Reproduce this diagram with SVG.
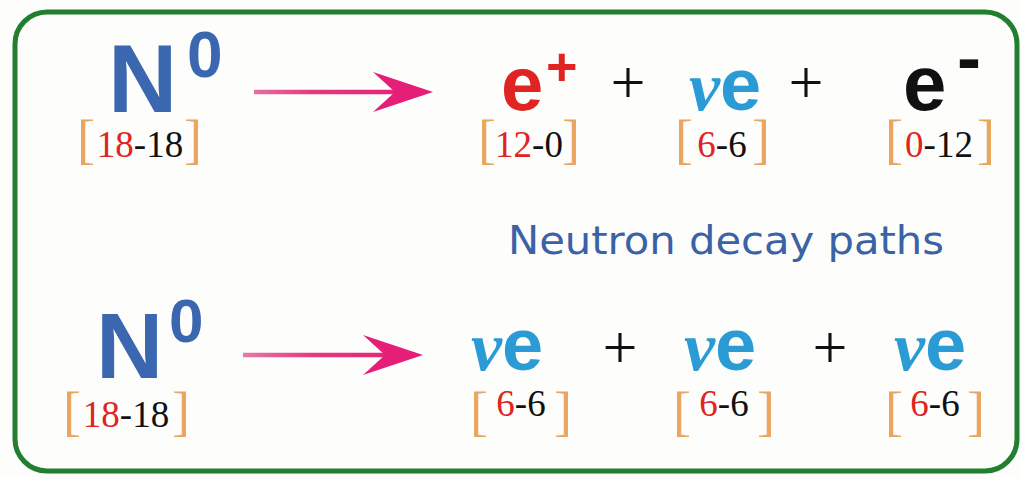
<svg xmlns="http://www.w3.org/2000/svg" width="1021" height="477" viewBox="0 0 1021 477">
<defs>
<style>
.big{font-family:"Liberation Sans",Arial,sans-serif;font-weight:bold}
.N{fill:#3b67b1}
.sup{font-family:"Liberation Sans",Arial,sans-serif;font-weight:bold}
.op{font-family:"Liberation Serif","Times New Roman",serif;font-size:62px;fill:#111;text-anchor:middle}
.nu{font-family:"Liberation Serif","Times New Roman",serif;font-style:italic;font-weight:bold;font-size:70px;fill:#2b9bd6}
.ne{font-family:"Liberation Sans",Arial,sans-serif;font-weight:bold;font-size:74px;fill:#2b9bd6}
.br{font-family:"Liberation Serif","Times New Roman",serif;font-size:54px;fill:#eaa660}
.num{font-family:"Liberation Serif","Times New Roman",serif;font-size:37px;fill:#111;text-anchor:middle}
.r{fill:#e02424}
.title{font-family:"DejaVu Sans","Liberation Sans",sans-serif;font-size:39px;fill:#3a62a6}
</style>
<linearGradient id="ag" gradientUnits="userSpaceOnUse" x1="243" y1="0" x2="420" y2="0">
<stop offset="0" stop-color="#e47aa8"/>
<stop offset="0.4" stop-color="#e4387f"/>
<stop offset="1" stop-color="#e51f78"/>
</linearGradient>
<marker id="head" markerUnits="userSpaceOnUse" markerWidth="64" markerHeight="44" refX="54" refY="22" orient="auto" viewBox="0 0 64 44">
<path d="M2,2 L62,22 L2,42 L24,22 Z" fill="#e51f78"/>
</marker>
</defs>
<rect width="1021" height="477" fill="#fdfdfb"/>
<rect id="frame" x="15" y="12" width="1002" height="459" rx="32" ry="32" fill="none" stroke="#237f30" stroke-width="5"/>

<g id="connectors">
<line x1="254" y1="92" x2="425" y2="92" stroke="url(#ag)" stroke-width="4.5" marker-end="url(#head)"/>
<line x1="243" y1="355" x2="415" y2="355" stroke="url(#ag)" stroke-width="4.5" marker-end="url(#head)"/>
</g>

<g id="n1">
<text class="big N" x="108" y="112" font-size="96">N</text>
<text class="sup N" x="187" y="77" font-size="64">0</text>
<text class="br" x="77" y="158">[</text>
<text class="br" x="202" y="158" text-anchor="end">]</text>
<text class="num" x="140" y="157"><tspan class="r">18</tspan>-18</text>
</g>

<g id="eplus">
<text class="big" x="501" y="110" font-size="76" fill="#e02424">e</text>
<text class="sup" x="546" y="85" font-size="54" fill="#e02424">+</text>
<text class="br" x="478" y="158">[</text>
<text class="br" x="580" y="158" text-anchor="end">]</text>
<text class="num" x="529" y="157"><tspan class="r">12</tspan>-0</text>
</g>

<text class="op" x="628" y="103">+</text>

<g id="nu1">
<text x="689" y="110"><tspan class="nu">v</tspan><tspan class="ne">e</tspan></text>
<text class="br" x="675" y="158">[</text>
<text class="br" x="770" y="158" text-anchor="end">]</text>
<text class="num" x="722" y="157"><tspan class="r">6</tspan>-6</text>
</g>

<text class="op" x="806" y="103">+</text>

<g id="eminus">
<text class="big" x="903" y="110" font-size="78" fill="#111">e</text>
<text class="sup" x="957" y="82" font-size="72" fill="#111">-</text>
<text class="br" x="885" y="158">[</text>
<text class="br" x="995" y="158" text-anchor="end">]</text>
<text class="num" x="939" y="157"><tspan class="r">0</tspan>-12</text>
</g>

<text id="title" class="title" x="508" y="254" textLength="436" lengthAdjust="spacingAndGlyphs">Neutron decay paths</text>

<g id="n2">
<text class="big N" x="96" y="378" font-size="93">N</text>
<text class="sup N" x="169" y="342" font-size="62">0</text>
<text class="br" x="63" y="430">[</text>
<text class="br" x="190" y="430" text-anchor="end">]</text>
<text class="num" x="126" y="427"><tspan class="r">18</tspan>-18</text>
</g>

<g id="nu2">
<text x="471" y="370"><tspan class="nu">v</tspan><tspan class="ne">e</tspan></text>
<text class="br" x="470" y="430">[</text>
<text class="br" x="572" y="430" text-anchor="end">]</text>
<text class="num" x="521" y="416"><tspan class="r">6</tspan>-6</text>
</g>

<text class="op" x="620" y="368">+</text>

<g id="nu3">
<text x="684" y="370"><tspan class="nu">v</tspan><tspan class="ne">e</tspan></text>
<text class="br" x="673" y="430">[</text>
<text class="br" x="775" y="430" text-anchor="end">]</text>
<text class="num" x="724" y="416"><tspan class="r">6</tspan>-6</text>
</g>

<text class="op" x="830" y="368">+</text>

<g id="nu4">
<text x="894" y="370"><tspan class="nu">v</tspan><tspan class="ne">e</tspan></text>
<text class="br" x="885" y="430">[</text>
<text class="br" x="985" y="430" text-anchor="end">]</text>
<text class="num" x="935" y="416"><tspan class="r">6</tspan>-6</text>
</g>
</svg>
